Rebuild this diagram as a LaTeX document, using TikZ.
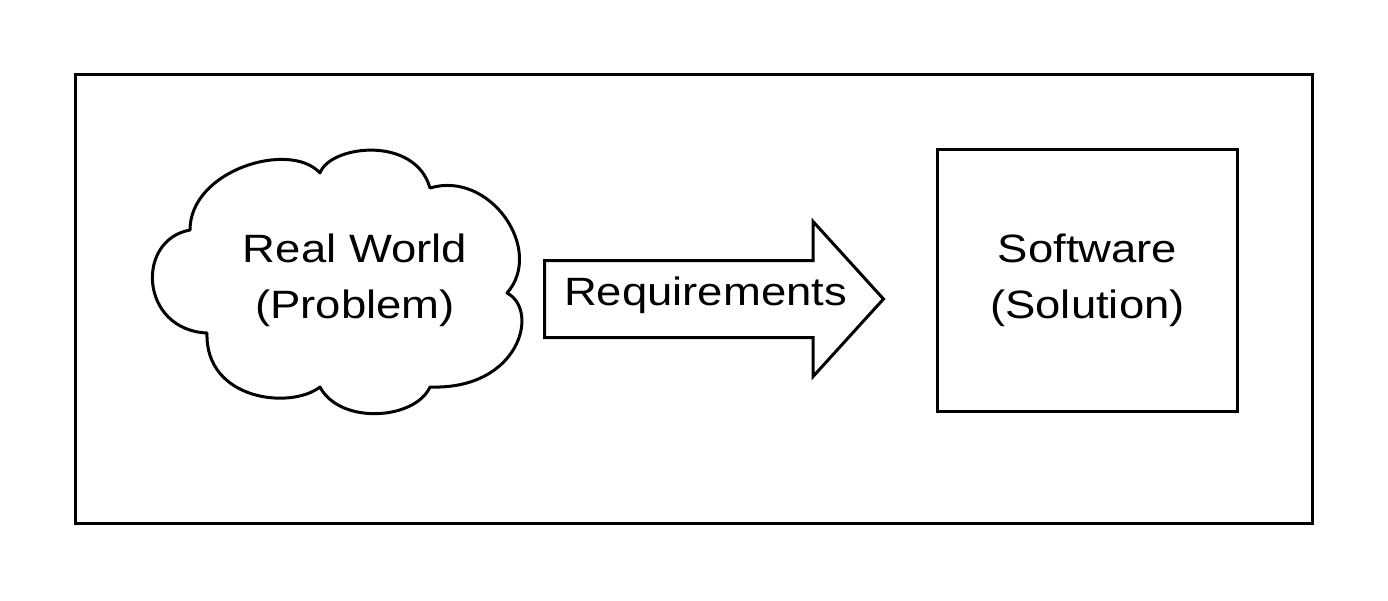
\documentclass[tikz,border=0pt]{standalone}
\usepackage{fontspec}
\setmainfont{Liberation Sans}[FakeStretch=1.15]
\usepackage{tikz}
\usetikzlibrary{shapes,arrows}
\usetikzlibrary{positioning}

\begin{document}
\begin{tikzpicture}[x=0.02cm, y=-0.02cm, line width=0.06cm,
    font=\fontsize{22.5}{31.9}\selectfont]

    \tikzstyle{label}=[align=center, inner sep=0pt];
    \tikzstyle{solution}=[draw, shape=rectangle, align=center,
      minimum width=6.02cm, minimum height=5.26cm];
    \tikzstyle{requirement}=[draw, shape=single arrow, inner sep=0pt,
      single arrow head extend=0.78cm, single arrow tip angle=95.5,
      minimum height=6.76cm, text height=0.86cm, text depth=0.62cm];

    \useasboundingbox (0,0) rectangle (1388,600);

    % frame
    \draw (75,74) rectangle (1312,523);

    % cloud
    \draw [line join=round] (190,230) .. controls (190,170) and (290,140) .. (320,173)
      .. controls (330,145) and (415,135) .. (430,188)
      .. controls (490,170) and (545,250) .. (507,293)
      .. controls (540,310) and (520,390) .. (430,387)
      .. controls (415,420) and (340,425) .. (320,387)
      .. controls (290,410) and (205,400) .. (207,333)
      .. controls (140,330) and (135,240) .. (190,230) -- cycle;
    \node [label](world) at (355,280){Real World\\(Problem)};

    \node [requirement, anchor=tail](req) at (543,299){\hspace*{0.36cm}Requirements};

    \node [solution](soft) at (1087.5,280.5){Software\\(Solution)};

\end{tikzpicture}
\end{document}
